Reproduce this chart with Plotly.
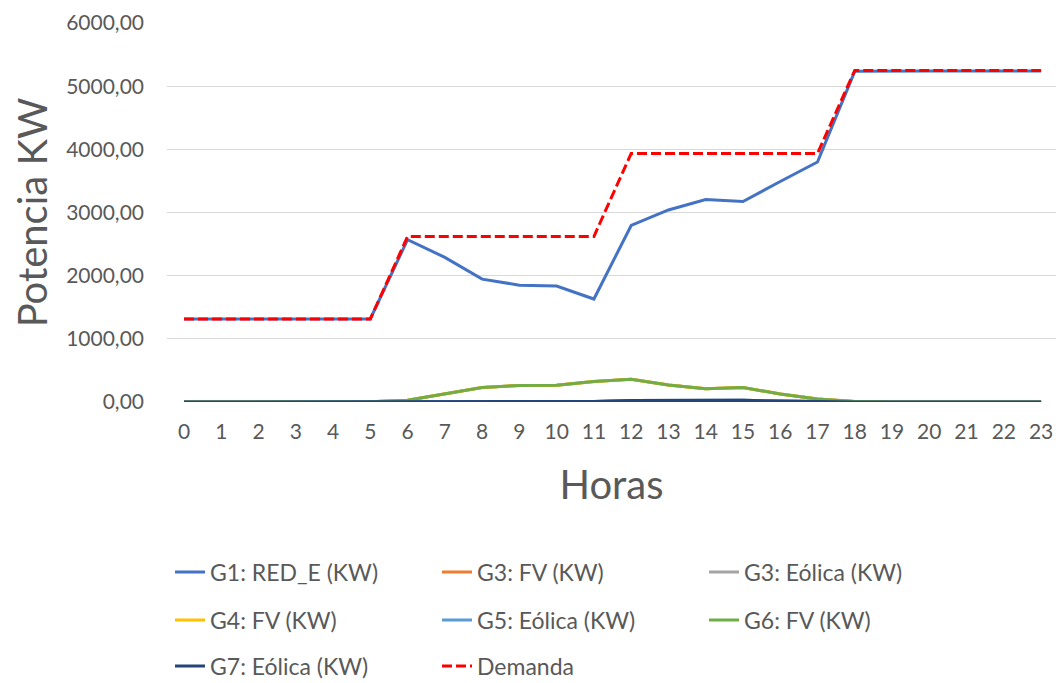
import plotly.graph_objects as go

hours = [0, 1, 2, 3, 4, 5, 6, 7, 8, 9, 10, 11, 12, 13, 14, 15, 16, 17, 18, 19, 20, 21, 22, 23]
hour_labels = [str(h) for h in hours]

g1_red = [1315, 1315, 1315, 1315, 1315, 1315, 2570, 2290, 1945, 1850, 1835, 1630,
          2795, 3040, 3205, 3175, 3490, 3800, 5235, 5242, 5242, 5242, 5242, 5242]
g3_fv = [0, 0, 0, 0, 0, 2, 28, 125, 228, 262, 266, 326,
         360, 270, 208, 228, 128, 48, 8, 0, 0, 0, 0, 0]
g3_eol = [0, 0, 0, 0, 0, 0, 0, 0, 0, 0, 2, 8,
          25, 30, 33, 28, 15, 5, 1, 0, 0, 0, 0, 0]
g4_fv = [0, 0, 0, 0, 0, 2, 28, 125, 228, 262, 266, 326,
         360, 270, 208, 228, 128, 48, 8, 0, 0, 0, 0, 0]
g5_eol = [0, 0, 0, 0, 0, 0, 0, 0, 0, 0, 2, 8,
          25, 30, 33, 28, 15, 5, 1, 0, 0, 0, 0, 0]
g6_fv = [0, 0, 0, 0, 0, 2, 28, 125, 228, 262, 266, 326,
         360, 270, 208, 228, 128, 48, 8, 0, 0, 0, 0, 0]
g7_eol = [0, 0, 0, 0, 0, 0, 0, 0, 0, 0, 2, 8,
          25, 30, 33, 28, 15, 5, 1, 0, 0, 0, 0, 0]
demanda = [1315, 1315, 1315, 1315, 1315, 1315, 2620, 2620, 2620, 2620, 2620, 2620,
           3935, 3935, 3935, 3935, 3935, 3935, 5250, 5250, 5250, 5250, 5250, 5250]

y_tickvals = [0, 1000, 2000, 3000, 4000, 5000, 6000]
y_ticktext = ["0,00", "1000,00", "2000,00", "3000,00", "4000,00", "5000,00", "6000,00"]

FONT = "Lato"
TXT = "#595959"

series = [
    ("G1: RED_E (KW)", g1_red, "#4472C4", "solid", "legend"),
    ("G3: FV (KW)", g3_fv, "#ED7D31", "solid", "legend"),
    ("G3: Eólica (KW)", g3_eol, "#A5A5A5", "solid", "legend"),
    ("G4: FV (KW)", g4_fv, "#FFC000", "solid", "legend2"),
    ("G5: Eólica (KW)", g5_eol, "#5B9BD5", "solid", "legend2"),
    ("G6: FV (KW)", g6_fv, "#70AD47", "solid", "legend2"),
    ("G7: Eólica (KW)", g7_eol, "#264478", "solid", "legend3"),
    ("Demanda", demanda, "#FF0000", "10px,4px", "legend3"),
]

fig = go.Figure()
for name, vals, color, dash, leg in series:
    fig.add_trace(go.Scatter(
        x=hours, y=vals, name=name, mode="lines",
        line=dict(color=color, width=3, dash=dash),
        legend=leg,
    ))

def legend_cfg(ycenter):
    return dict(
        orientation="h", xref="container", yref="container",
        x=170 / 1056, xanchor="left", y=1 - ycenter / 683, yanchor="middle",
        entrywidth=222, entrywidthmode="pixels",
        font=dict(family=FONT, size=23, color=TXT),
        bgcolor="rgba(0,0,0,0)", traceorder="normal",
    )

fig.update_layout(
    width=1056, height=683,
    paper_bgcolor="white", plot_bgcolor="white",
    margin=dict(l=167, r=0, t=23, b=281),
    font=dict(family=FONT, color=TXT),
    showlegend=True,
    legend=legend_cfg(572),
    legend2=legend_cfg(620),
    legend3=legend_cfg(666),
)

fig.update_xaxes(
    range=[-0.456, 23.40],
    tickvals=hours, ticktext=hour_labels,
    tickfont=dict(family=FONT, size=21, color=TXT),
    showgrid=False, zeroline=False, showline=False, ticks="", ticklabelstandoff=15,
    title=dict(text="Horas", font=dict(family=FONT, size=40, color=TXT), standoff=28),
)
fig.update_yaxes(
    range=[0, 6000],
    tickvals=y_tickvals, ticktext=y_ticktext,
    tickfont=dict(family=FONT, size=21, color=TXT),
    showgrid=True, gridcolor="#D9D9D9", gridwidth=1,
    zeroline=False, showline=False, ticks="", ticklabelstandoff=22,
    title=dict(text="Potencia KW", font=dict(family=FONT, size=40, color=TXT), standoff=6),
)

fig.write_html("out.html")
